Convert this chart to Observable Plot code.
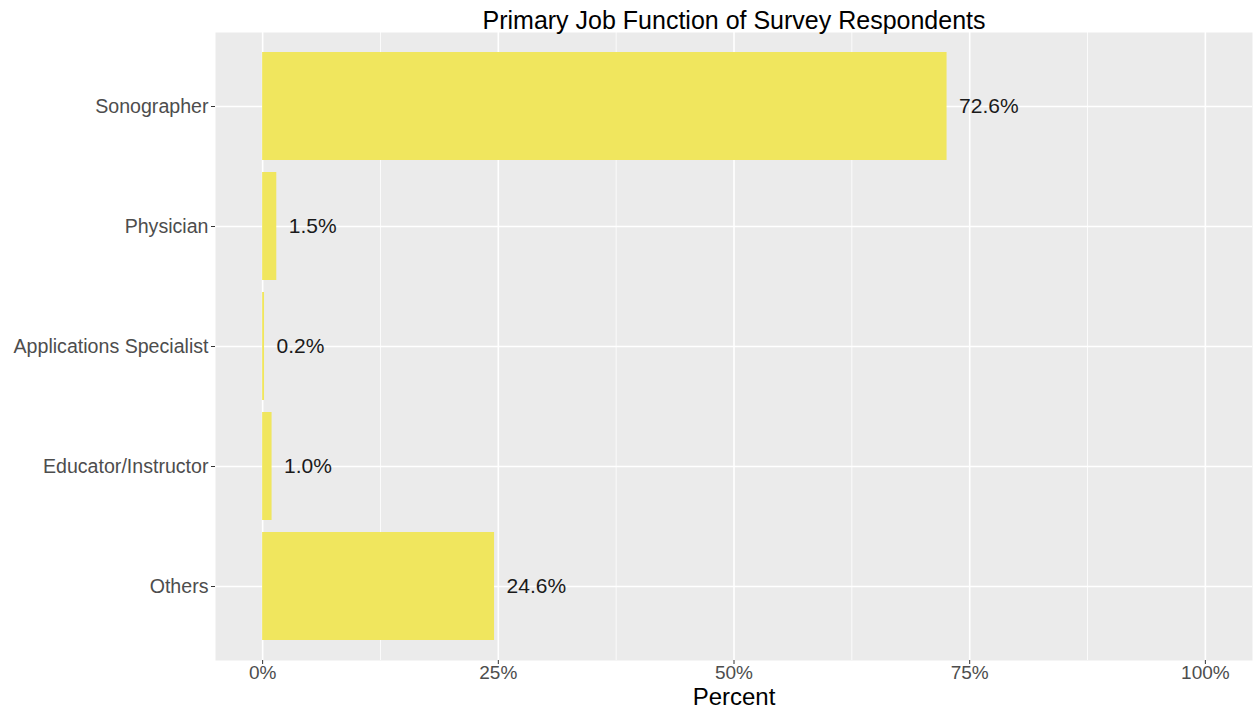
<!DOCTYPE html>
<html>
<head>
<meta charset="utf-8">
<script src="https://cdn.jsdelivr.net/npm/d3@7"></script>
<script src="https://cdn.jsdelivr.net/npm/@observablehq/plot@0.6"></script>
<style>
  html, body { margin: 0; padding: 0; background: #fff; }
  svg { display: block; }
</style>
</head>
<body>
<div id="chart"></div>
<script>
const categories = ["Sonographer", "Physician", "Applications Specialist", "Educator/Instructor", "Others"];
const percents = [72.6, 1.5, 0.2, 1.0, 24.6];
const majorTicks = [0, 25, 50, 75, 100];
const minorTicks = [12.5, 37.5, 62.5, 87.5];
const titleText = "Primary Job Function of Survey Respondents";
const xTitle = "Percent";

const data = categories.map((c, i) => ({category: c, value: percents[i], label: percents[i].toFixed(1) + "%"}));

const font = "'Liberation Sans', Arial, sans-serif";

const chart = Plot.plot({
  width: 1256,
  height: 711,
  marginLeft: 215,
  marginRight: 4,
  marginTop: 32,
  marginBottom: 51,
  style: {fontFamily: font, background: "#ffffff"},
  x: {domain: [-5, 105], axis: null},
  y: {domain: categories, paddingInner: 0.1, paddingOuter: 0.15, axis: null},
  marks: [
    Plot.frame({fill: "#EBEBEB", stroke: null}),
    Plot.ruleX(minorTicks, {stroke: "#ffffff", strokeWidth: 0.8}),
    Plot.ruleX(majorTicks, {stroke: "#ffffff", strokeWidth: 1.6}),
    Plot.ruleY(categories, {y: d => d, stroke: "#ffffff", strokeWidth: 1.6}),
    Plot.barX(data, {y: "category", x1: 0, x2: "value", fill: "#F0E65E"}),
    Plot.text(data, {y: "category", x: "value", text: "label", textAnchor: "start", dx: 12,
      fontSize: 21, fill: "#1a1a1a"}),
    Plot.axisY({tickSize: 4, tickPadding: 3, fontSize: 19.6, color: "#4D4D4D", stroke: "#333333", label: null}),
    Plot.axisX(majorTicks, {tickSize: 4, tickPadding: 1, fontSize: 19, color: "#4D4D4D", stroke: "#333333",
      tickFormat: d => d + "%", label: null}),
    Plot.text([titleText], {frameAnchor: "top", lineAnchor: "middle", dy: -12, text: d => d, fontSize: 25, fill: "#000000"}),
    Plot.text([xTitle], {frameAnchor: "bottom", lineAnchor: "middle", dy: 37, text: d => d, fontSize: 24, fill: "#000000"})
  ]
});
document.getElementById("chart").appendChild(chart);
</script>
</body>
</html>
